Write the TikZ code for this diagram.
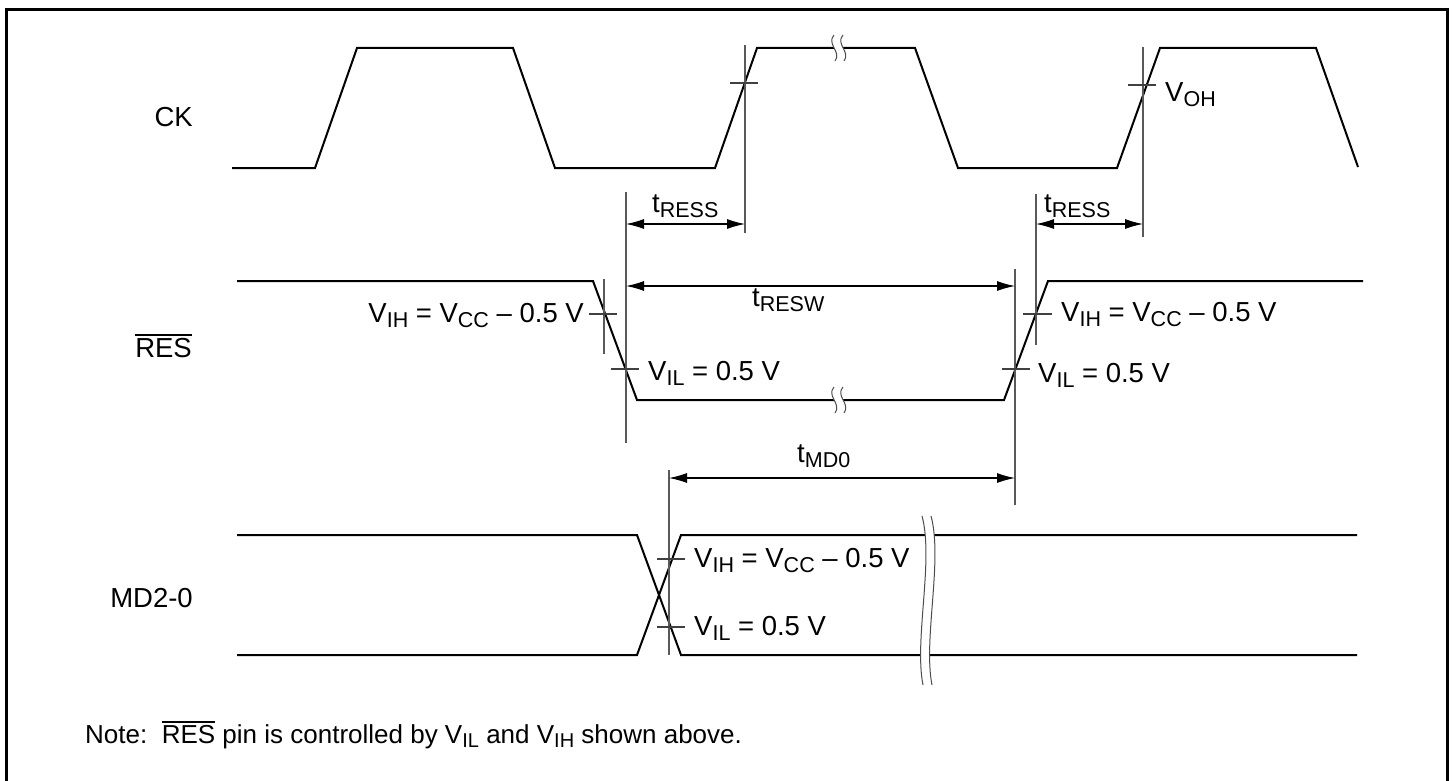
\documentclass[tikz,border=0pt]{standalone}
\usepackage{fontspec}
\setmainfont{Liberation Sans}
\usetikzlibrary{arrows.meta}
\newcommand\sbs[1]{\raisebox{-5pt}{\fontsize{21.5}{21.5}\selectfont #1}}
\newcommand\nsbs[1]{\raisebox{-4.5pt}{\fontsize{20}{20}\selectfont #1}}
\newcommand\ovl[1]{\leavevmode\vbox{\hrule height 1.2pt \kern 2.2pt \hbox{#1}}}
\tikzset{
  sig/.style={line width=2pt, line join=miter},
  tim/.style={line width=1.1pt, black!65},
  tck/.style={line width=1.1pt, black!75},
  dimarr/.style={line width=1.1pt, {Latex[length=18pt,width=10pt]}-{Latex[length=18pt,width=10pt]}},
  brk/.style={line width=1pt, black!70},
  lbl/.style={inner sep=0pt, font=\fontsize{27.5}{33}\selectfont},
  notelbl/.style={inner sep=0pt, font=\fontsize{26}{31}\selectfont},
}
\begin{document}
\begin{tikzpicture}[x=1pt,y=-1pt]
\useasboundingbox (0,0) rectangle (1453,781);
% frame
\draw[line width=3pt] (6.5,795) -- (6.5,9.5) -- (1447.5,9.5) -- (1447.5,795);

% signal names
\node[lbl, anchor=base east] (ck) at (193,127) {CK};
\node[lbl, anchor=base east] (res) at (192,357) {\ovl{RES}};
\node[lbl, anchor=base east] (md) at (193,607) {MD2-0};

% CK waveform
\draw[sig] (232,168) -- (315,168) -- (357,48) -- (513,48) -- (555,168) -- (715,168) -- (757,48) -- (915,48) -- (958,168) -- (1117,168) -- (1160,48) -- (1316,48) -- (1358,167);
% RES waveform
\draw[sig] (237,281) -- (593,281) -- (637,400) -- (1004,400) -- (1048,281) -- (1363,281);
% MD waveform
\draw[sig] (237,535) -- (637,535) -- (681,655) -- (1357,655);
\draw[sig] (237,655) -- (637,655) -- (681,535) -- (1357,535);

% small breaks
\foreach \bx/\by in {838/48, 838/400}{
  \begin{scope}[shift={(\bx,\by)}]
    \fill[white] (-4,-13) .. controls (-12,-4) and (4,4) .. (-3,13) -- (6,13) .. controls (13,4) and (-3,-4) .. (5,-13) -- cycle;
    \draw[brk] (-4,-13) .. controls (-12,-4) and (4,4) .. (-3,13);
    \draw[brk] (5,-13) .. controls (-3,-4) and (13,4) .. (6,13);
  \end{scope}
}
% large break on MD
\fill[white] (922,516) .. controls (934,560) and (914,640) .. (923,685) -- (932,685) .. controls (923,640) and (943,560) .. (931,516) -- cycle;
\draw[brk] (922,516) .. controls (934,560) and (914,640) .. (923,685);
\draw[brk] (931,516) .. controls (943,560) and (923,640) .. (932,685);

% timing reference lines
\coordinate (a1) at (626,192);  \coordinate (a2) at (626,443);
\coordinate (b1) at (745,45);   \coordinate (b2) at (745,233);
\coordinate (c1) at (1036,194); \coordinate (c2) at (1036,345);
\coordinate (d1) at (1143,47);  \coordinate (d2) at (1143,237);
\coordinate (e1) at (1015,269); \coordinate (e2) at (1015,505);
\coordinate (f1) at (669,470);  \coordinate (f2) at (669,655);
\coordinate (g1) at (604,279);  \coordinate (g2) at (604,354);
\foreach \p in {a,b,c,d,e,f,g}{\draw[tim] (\p1) -- (\p2);}

% ticks
\draw[tck] (730,83) -- (758,83);
\draw[tck] (1128,85) -- (1156,85);
\draw[tck] (589,314) -- (617,314);
\draw[tck] (611,369) -- (639,369);
\draw[tck] (1023,314) -- (1052,314);
\draw[tck] (1002,369) -- (1030,369);
\draw[tck] (657,559) -- (685,559);
\draw[tck] (657,627) -- (685,627);

% dimension arrows
\coordinate (r1l) at (626,224);  \coordinate (r1r) at (745,224);
\coordinate (r2l) at (1036,224); \coordinate (r2r) at (1143,224);
\coordinate (wl) at (626,286);   \coordinate (wr) at (1015,286);
\coordinate (ml) at (669,478);   \coordinate (mr) at (1015,478);
\draw[dimarr] (r1l) -- (r1r);
\draw[dimarr] (r2l) -- (r2r);
\draw[dimarr] (wl) -- (wr);
\draw[dimarr] (ml) -- (mr);

% labels
\node[lbl, anchor=base west] (tress1) at (652,212) {t\sbs{RESS}};
\node[lbl, anchor=base west] (tress2) at (1044,212) {t\sbs{RESS}};
\node[lbl, anchor=base west] (tresw) at (752,306) {t\sbs{RESW}};
\node[lbl, anchor=base west] (tmd) at (797,462) {t\sbs{MD0}};
\node[lbl, anchor=base west] (voh) at (1165,102) {V\sbs{OH}};
\node[lbl, anchor=base east] (vih1) at (584,322) {V\sbs{IH} = V\sbs{CC} -- 0.5 V};
\node[lbl, anchor=base west] (vil1) at (648,380) {V\sbs{IL} = 0.5 V};
\node[lbl, anchor=base west] (vih2) at (1061,321) {V\sbs{IH} = V\sbs{CC} -- 0.5 V};
\node[lbl, anchor=base west] (vil2) at (1038,382) {V\sbs{IL} = 0.5 V};
\node[lbl, anchor=base west] (vih3) at (694,567) {V\sbs{IH} = V\sbs{CC} -- 0.5 V};
\node[lbl, anchor=base west] (vil3) at (694,635) {V\sbs{IL} = 0.5 V};
\node[notelbl, anchor=base west] (note) at (85,743) {Note:\ \ \ovl{RES} pin is controlled by V\nsbs{IL} and V\nsbs{IH} shown above.};
\end{tikzpicture}
\end{document}
